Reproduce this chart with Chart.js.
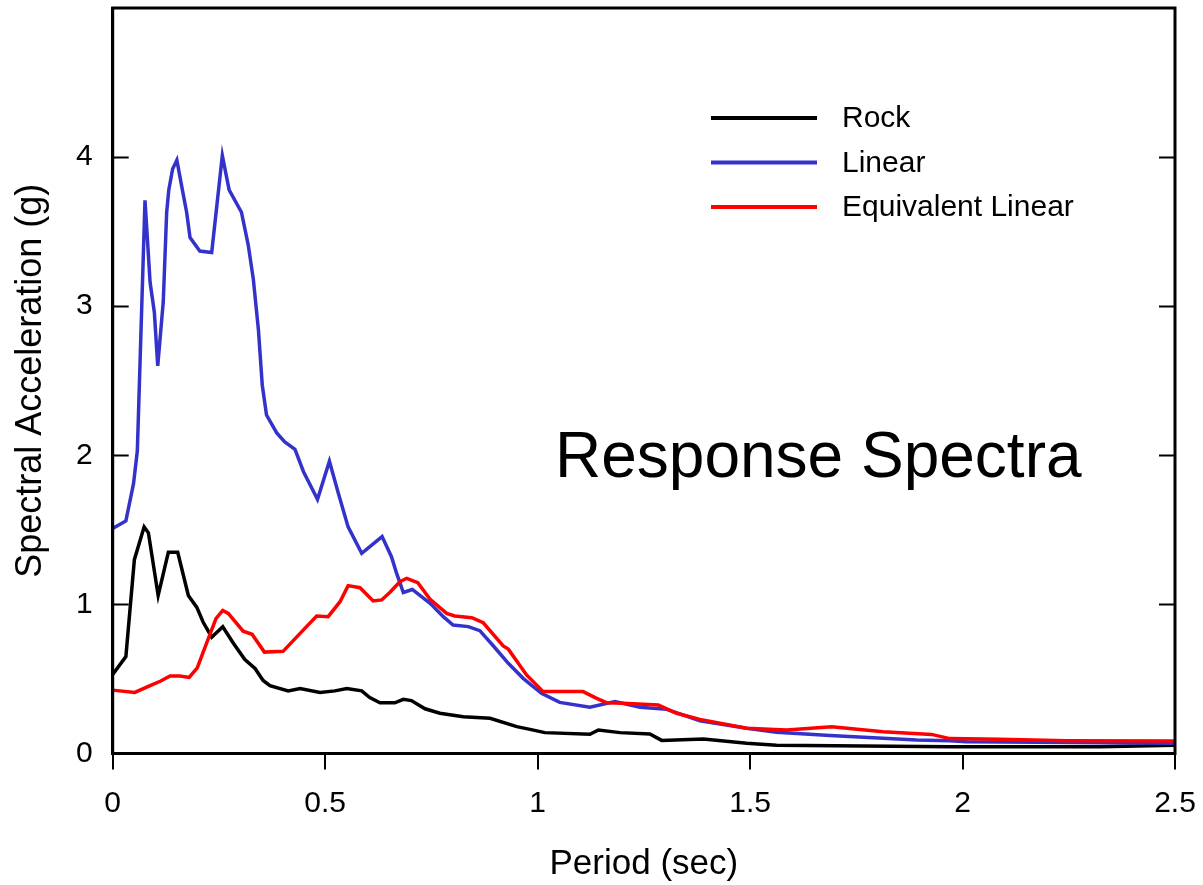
<!DOCTYPE html>
<html>
<head>
<meta charset="utf-8">
<script src="https://cdn.jsdelivr.net/npm/chart.js@4.4.1/dist/chart.umd.min.js"></script>
<style>
  html, body { margin: 0; padding: 0; background: #fff; }
  canvas { display: block; }
</style>
</head>
<body>
<canvas id="spettri" width="1203" height="885"></canvas>
<script>
// periodi (sec) e accelerazioni spettrali (g)
const rockPeriod = [0, 0.031, 0.051, 0.074, 0.084, 0.107, 0.131, 0.153, 0.178, 0.198, 0.213, 0.233, 0.259, 0.284, 0.311, 0.335, 0.354, 0.37, 0.413, 0.441, 0.488, 0.523, 0.551, 0.586, 0.605, 0.629, 0.664, 0.684, 0.703, 0.735, 0.77, 0.825, 0.888, 0.951, 0.982, 1.017, 1.123, 1.143, 1.194, 1.264, 1.292, 1.39, 1.492, 1.562, 1.97, 2.323, 2.5];
const rockSa = [0.53, 0.65, 1.30, 1.52, 1.48, 1.06, 1.35, 1.35, 1.06, 0.98, 0.88, 0.78, 0.85, 0.74, 0.63, 0.57, 0.49, 0.455, 0.42, 0.435, 0.41, 0.42, 0.435, 0.42, 0.375, 0.34, 0.34, 0.363, 0.355, 0.30, 0.27, 0.247, 0.236, 0.18, 0.162, 0.14, 0.129, 0.158, 0.14, 0.131, 0.088, 0.097, 0.068, 0.055, 0.046, 0.046, 0.055];

const linearPeriod = [0, 0.031, 0.049, 0.058, 0.076, 0.088, 0.098, 0.106, 0.119, 0.127, 0.132, 0.141, 0.151, 0.162, 0.174, 0.182, 0.205, 0.233, 0.258, 0.274, 0.303, 0.319, 0.331, 0.343, 0.352, 0.362, 0.386, 0.405, 0.429, 0.449, 0.482, 0.51, 0.531, 0.554, 0.586, 0.634, 0.656, 0.668, 0.684, 0.705, 0.747, 0.778, 0.801, 0.837, 0.864, 0.896, 0.931, 0.966, 1.009, 1.052, 1.123, 1.182, 1.241, 1.304, 1.382, 1.492, 1.562, 1.688, 1.813, 1.892, 1.97, 2.009, 2.5];
const linearSa = [1.51, 1.56, 1.81, 2.03, 3.71, 3.16, 2.96, 2.60, 3.03, 3.63, 3.78, 3.92, 3.98, 3.81, 3.63, 3.46, 3.37, 3.36, 4.01, 3.78, 3.63, 3.41, 3.18, 2.84, 2.47, 2.27, 2.15, 2.09, 2.04, 1.89, 1.705, 1.96, 1.745, 1.52, 1.343, 1.455, 1.32, 1.21, 1.08, 1.10, 1.007, 0.918, 0.862, 0.851, 0.824, 0.721, 0.605, 0.504, 0.404, 0.343, 0.31, 0.348, 0.31, 0.296, 0.22, 0.169, 0.142, 0.12, 0.102, 0.09, 0.085, 0.079, 0.068];

const eqPeriod = [0, 0.052, 0.088, 0.113, 0.135, 0.158, 0.18, 0.199, 0.221, 0.243, 0.259, 0.272, 0.307, 0.328, 0.357, 0.401, 0.441, 0.48, 0.507, 0.535, 0.554, 0.582, 0.613, 0.633, 0.652, 0.676, 0.692, 0.718, 0.747, 0.786, 0.805, 0.845, 0.872, 0.919, 0.931, 0.974, 1.013, 1.107, 1.139, 1.162, 1.201, 1.284, 1.327, 1.382, 1.492, 1.586, 1.692, 1.813, 1.927, 1.97, 2.088, 2.245, 2.5];
const eqSa = [0.425, 0.41, 0.455, 0.486, 0.52, 0.52, 0.51, 0.575, 0.74, 0.905, 0.96, 0.94, 0.82, 0.80, 0.68, 0.685, 0.806, 0.922, 0.918, 1.018, 1.126, 1.112, 1.023, 1.03, 1.08, 1.152, 1.175, 1.146, 1.034, 0.94, 0.922, 0.911, 0.877, 0.721, 0.70, 0.527, 0.415, 0.415, 0.37, 0.341, 0.337, 0.325, 0.27, 0.229, 0.169, 0.158, 0.18, 0.146, 0.128, 0.10, 0.095, 0.086, 0.084];

const seriesNames = ['Rock', 'Linear', 'Equivalent Linear'];
const seriesColors = ['#000000', '#3333cc', '#ff0000'];
const yTicks = [0, 1, 2, 3, 4];
const xTickLabels = ['0', '0.5', '1', '1.5', '2', '2.5'];

const FONT = "'Liberation Sans', Arial, sans-serif";

function punti(xs, ys) {
    return xs.map((x, i) => ({ x: x, y: ys[i] }));
}

// cornice, tacche interne, legenda e scritta
const decorazioni = {
    id: 'decorazioni',
    afterDraw(chart) {
        const { ctx, chartArea: a, scales } = chart;
        ctx.save();
        ctx.strokeStyle = '#000';
        ctx.lineWidth = 3;
        ctx.strokeRect(a.left, a.top, a.right - a.left, a.bottom - a.top);

        ctx.lineWidth = 2;
        yTicks.slice(1).forEach(v => {
            const y = Math.round(scales.y.getPixelForValue(v)) + 0.5;
            ctx.beginPath();
            ctx.moveTo(a.left, y); ctx.lineTo(a.left + 16, y);
            ctx.moveTo(a.right, y); ctx.lineTo(a.right - 16, y);
            ctx.stroke();
        });

        ctx.font = '30px ' + FONT;
        ctx.textBaseline = 'middle';
        ctx.textAlign = 'left';
        seriesNames.forEach((n, i) => {
            const y = 118 + i * 44.5;
            ctx.strokeStyle = seriesColors[i];
            ctx.lineWidth = 4;
            ctx.beginPath();
            ctx.moveTo(711, y); ctx.lineTo(817, y);
            ctx.stroke();
            ctx.fillStyle = '#000';
            ctx.fillText(n, 842, y + 1);
        });

        ctx.font = '64px ' + FONT;
        ctx.textBaseline = 'alphabetic';
        ctx.fillText('Response Spectra', 555, 477);
        ctx.restore();
    }
};

new Chart(document.getElementById('spettri'), {
    type: 'line',
    data: {
        datasets: [
            { label: seriesNames[0], data: punti(rockPeriod, rockSa), borderColor: seriesColors[0], borderWidth: 3.5, order: 3 },
            { label: seriesNames[1], data: punti(linearPeriod, linearSa), borderColor: seriesColors[1], borderWidth: 3.5, order: 2 },
            { label: seriesNames[2], data: punti(eqPeriod, eqSa), borderColor: seriesColors[2], borderWidth: 3.5, order: 1 },
        ]
    },
    options: {
        responsive: false,
        animation: false,
        layout: { padding: { left: 0, top: 8, right: 28, bottom: 0 } },
        elements: {
            line: { tension: 0, fill: false },
            point: { radius: 0 }
        },
        plugins: { legend: { display: false }, tooltip: { enabled: false } },
        scales: {
            x: {
                type: 'linear',
                min: 0, max: 2.5,
                afterFit: s => { s.height = 131.5; s.paddingLeft = 0; s.paddingRight = 0; },
                border: { display: true, color: '#000', width: 3 },
                grid: { display: true, drawOnChartArea: false, drawTicks: true, tickLength: 16, color: '#000', lineWidth: 2 },
                ticks: {
                    stepSize: 0.5, color: '#000', padding: 16, maxRotation: 0,
                    font: { family: FONT, size: 30 },
                    callback: (v, i) => xTickLabels[i]
                },
                title: { display: true, text: 'Period (sec)', color: '#000', padding: { top: 0, bottom: 0 }, font: { family: FONT, size: 35 } }
            },
            y: {
                min: 0, max: 5,
                afterFit: s => { s.width = 112.7; s.paddingTop = 0; s.paddingBottom = 0; },
                border: { display: true, color: '#000', width: 3 },
                grid: { display: false },
                ticks: {
                    stepSize: 1, color: '#000', padding: 12,
                    font: { family: FONT, size: 30 },
                    callback: v => yTicks.includes(v) ? String(v) : ''
                },
                title: { display: true, text: 'Spectral Acceleration (g)', color: '#000', padding: { top: 9, bottom: 0 }, font: { family: FONT, size: 36 } }
            }
        }
    },
    plugins: [decorazioni]
});
</script>
</body>
</html>
